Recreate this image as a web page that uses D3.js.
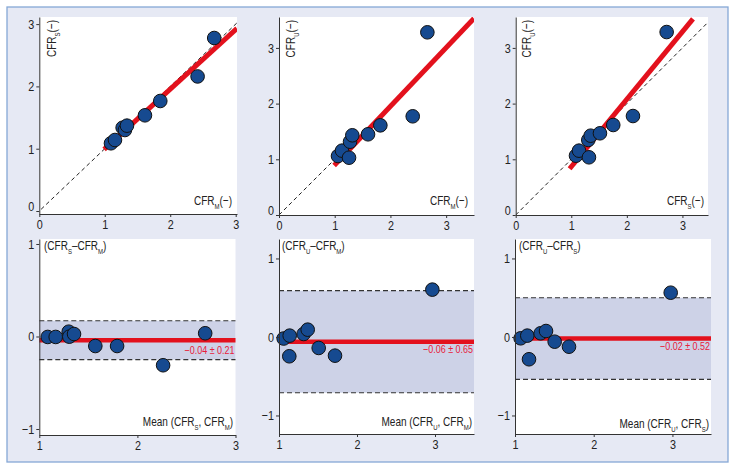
<!DOCTYPE html>
<html><head><meta charset="utf-8">
<script src="https://cdn.jsdelivr.net/npm/d3@7"></script>
<style>
body{margin:0;background:#fff;}
svg{display:block;font-family:"Liberation Sans",Arial,sans-serif;}
</style></head><body><svg id="c" width="736" height="469"></svg>
<script>
// ---------- data ----------
const ticksTop = [0, 1, 2, 3];
const ticksBAx = [1, 2, 3];
const ticksBAy = [-1, 0, 1];

// Panel A: CFR_S vs CFR_M
const aX = [1.095, 1.156, 1.273, 1.308, 1.339, 1.614, 1.848, 2.418, 2.672];
const aY = [1.087, 1.140, 1.337, 1.300, 1.370, 1.536, 1.766, 2.160, 2.777];
const aFitX = [0.99, 3.02];
const aFitY = [0.99, 2.93];
// Panel B: CFR_U vs CFR_M
const bX = [1.059, 1.131, 1.257, 1.275, 1.316, 1.598, 1.819, 2.400, 2.663];
const bY = [1.059, 1.155, 1.029, 1.316, 1.431, 1.449, 1.610, 1.772, 3.280];
const bFitX = [0.99, 3.50];
const bFitY = [0.89, 3.53];
// Panel C: CFR_U vs CFR_S
const cX = [1.085, 1.139, 1.318, 1.306, 1.349, 1.516, 1.755, 2.110, 2.716];
const cY = [1.065, 1.155, 1.036, 1.347, 1.424, 1.467, 1.616, 1.777, 3.285];
const cFitX = [0.97, 3.19];
const cFitY = [0.83, 3.52];

// Bland-Altman panels
const dX = [1.086, 1.167, 1.300, 1.306, 1.354, 1.571, 1.793, 2.262, 2.691];
const dY = [-0.005, -0.005, 0.052, -0.002, 0.027, -0.103, -0.103, -0.311, 0.035];
const eX = [1.060, 1.137, 1.132, 1.316, 1.368, 1.509, 1.718, 2.966];
const eY = [-0.020, 0.017, -0.246, 0.038, 0.093, -0.140, -0.238, 0.603];
const fX = [1.072, 1.156, 1.178, 1.326, 1.394, 1.504, 1.686, 2.978];
const fY = [-0.017, 0.017, -0.284, 0.047, 0.076, -0.060, -0.124, 0.564];
const baMeans = [-0.04, -0.06, -0.02];
const baLimits = [0.21, 0.65, 0.52];
const baLabels = ["\u22120.04 \u00b1 0.21", "\u22120.06 \u00b1 0.65", "\u22120.02 \u00b1 0.52"];

// ---------- drawing ----------
const svg = d3.select("#c");
const RED = "#e3111d", PT = "#164a90", BAND = "#cdd2e7";
const SX = 0.77; // horizontal condensing of text (condensed face look)

svg.append("rect").attr("x", 7).attr("y", 7).attr("width", 721).attr("height", 455)
  .attr("fill", "#e6e9f4").attr("stroke", "#86a8d6").attr("stroke-width", 1.3);

function richText(t, parts, fs) {
  let shift = 0;
  parts.forEach(([s, sub]) => {
    const ts = t.append("tspan").text(s);
    if (sub) { ts.attr("font-size", fs * 0.6).attr("dy", fs * 0.28); shift = fs * 0.28; }
    else { ts.attr("font-size", fs); if (shift) { ts.attr("dy", -shift); shift = 0; } }
  });
}
function label(parent, x, y, anchor, parts, fs, rot, color, sx) {
  const g = parent.append("g")
    .attr("transform", `translate(${x},${y})${rot ? ` rotate(${rot})` : ""} scale(${sx || SX},1)`);
  const t = g.append("text").attr("text-anchor", anchor).attr("fill", color || "#222");
  richText(t, parts, fs);
}

function axisStyle(g) {
  g.selectAll("path.domain").attr("stroke", "#333").attr("stroke-width", 1);
  g.selectAll(".tick line").attr("stroke", "#333");
  g.selectAll(".tick text").attr("font-size", 13.5).attr("fill", "#222")
    .attr("font-family", '"Liberation Sans",Arial,sans-serif');
}
function condenseTicksX(g) {
  g.selectAll(".tick text").attr("transform", "scale(0.8,1)");
}
function condenseTicksY(g) {
  g.selectAll(".tick text").attr("transform", "scale(0.8,1)").attr("x", -5 / 0.8);
}

const topPanels = [
  {xr: [39.3, 237], xd: [0, 3.02], yr: [214, 17], yd: [-0.048, 3.114], X: aX, Y: aY, fx: aFitX, fy: aFitY,
   diag: [-0.05, 3.1], ylab: [["CFR"], ["S", 1], ["(\u2212)"]], xlab: [["CFR"], ["M", 1], ["(\u2212)"]], ylx: 56, xlx: 232},
  {xr: [279, 474], xd: [0, 3.5], yr: [215, 17], yd: [0, 3.555], X: bX, Y: bY, fx: bFitX, fy: bFitY,
   diag: [0, 1], ylab: [["CFR"], ["U", 1], ["(\u2212)"]], xlab: [["CFR"], ["M", 1], ["(\u2212)"]], ylx: 295, xlx: 468},
  {xr: [515.7, 708], xd: [0, 3.46], yr: [215, 17], yd: [0, 3.555], X: cX, Y: cY, fx: cFitX, fy: cFitY,
   diag: [0, 3.55], ylab: [["CFR"], ["U", 1], ["(\u2212)"]], xlab: [["CFR"], ["S", 1], ["(\u2212)"]], ylx: 531, xlx: 704}
];

topPanels.forEach((p, i) => {
  const x = d3.scaleLinear().domain(p.xd).range(p.xr);
  const y = d3.scaleLinear().domain(p.yd).range(p.yr);
  const g = svg.append("g");
  const cid = "clipT" + i;
  svg.append("clipPath").attr("id", cid).append("rect")
    .attr("x", p.xr[0]).attr("y", p.yr[1]).attr("width", p.xr[1] - p.xr[0]).attr("height", p.yr[0] - p.yr[1]);
  g.append("rect").attr("x", p.xr[0]).attr("y", p.yr[1]).attr("width", p.xr[1] - p.xr[0])
    .attr("height", p.yr[0] - p.yr[1]).attr("fill", "#fff");
  const inner = g.append("g").attr("clip-path", `url(#${cid})`);
  inner.append("line").attr("x1", x(p.diag[0])).attr("y1", y(p.diag[0])).attr("x2", x(p.diag[1])).attr("y2", y(p.diag[1]))
    .attr("stroke", "#222").attr("stroke-width", 1).attr("stroke-dasharray", "4,3");
  inner.append("line").attr("x1", x(p.fx[0])).attr("y1", y(p.fy[0])).attr("x2", x(p.fx[1])).attr("y2", y(p.fy[1]))
    .attr("stroke", RED).attr("stroke-width", 5);
  inner.selectAll("circle").data(p.X.map((v, k) => [v, p.Y[k]])).enter().append("circle")
    .attr("cx", d => x(d[0])).attr("cy", d => y(d[1])).attr("r", 6.8)
    .attr("fill", PT).attr("stroke", "#111").attr("stroke-width", 1);
  const ax = g.append("g").attr("transform", `translate(0,${p.yr[0]})`)
    .call(d3.axisBottom(x).tickValues(ticksTop).tickFormat(d3.format("d")).tickSize(3).tickSizeOuter(0).tickPadding(2));
  axisStyle(ax); condenseTicksX(ax);
  const ay = g.append("g").attr("transform", `translate(${p.xr[0]},0)`)
    .call(d3.axisLeft(y).tickValues(ticksTop).tickFormat(d3.format("d")).tickSize(3).tickSizeOuter(0).tickPadding(2));
  axisStyle(ay); condenseTicksY(ay);
  ay.selectAll(".tick").filter(d => d === 0).select("text").attr("dy", "-0.05em");
  label(g, p.ylx, 20, "end", p.ylab, 13, -90);
  label(g, p.xlx, 205, "end", p.xlab, 13, 0);
});

const baPanels = [
  {xr: [39.3, 235.5], xd: [1, 3], yr: [435, 239], yd: [-1.065, 1.054], X: dX, Y: dY,
   title: [["(CFR"], ["S", 1], ["\u2013CFR"], ["M", 1], [")"]], tx: 44,
   mlab: [["Mean (CFR"], ["S", 1], [", CFR"], ["M", 1], [")"]], mx: 233, my: 426, ly: 354},
  {xr: [279, 474], xd: [1, 3.5], yr: [434, 239], yd: [-1.236, 1.248], X: eX, Y: eY,
   title: [["(CFR"], ["U", 1], ["\u2013CFR"], ["M", 1], [")"]], tx: 282,
   mlab: [["Mean (CFR"], ["U", 1], [", CFR"], ["M", 1], [")"]], mx: 472, my: 426, ly: 353},
  {xr: [515, 711], xd: [1, 3.49], yr: [434, 239], yd: [-1.236, 1.248], X: fX, Y: fY,
   title: [["(CFR"], ["U", 1], ["\u2013CFR"], ["S", 1], [")"]], tx: 519,
   mlab: [["Mean (CFR"], ["U", 1], [", CFR"], ["S", 1], [")"]], mx: 709, my: 428, ly: 350}
];

baPanels.forEach((p, i) => {
  const x = d3.scaleLinear().domain(p.xd).range(p.xr);
  const y = d3.scaleLinear().domain(p.yd).range(p.yr);
  const g = svg.append("g");
  const m = baMeans[i], L = baLimits[i];
  g.append("rect").attr("x", p.xr[0]).attr("y", p.yr[1]).attr("width", p.xr[1] - p.xr[0])
    .attr("height", p.yr[0] - p.yr[1]).attr("fill", "#fff");
  g.append("rect").attr("x", p.xr[0]).attr("y", y(m + L)).attr("width", p.xr[1] - p.xr[0])
    .attr("height", y(m - L) - y(m + L)).attr("fill", BAND);
  [m + L, m - L].forEach(v => g.append("line").attr("x1", p.xr[0]).attr("x2", p.xr[1])
    .attr("y1", y(v)).attr("y2", y(v)).attr("stroke", "#333").attr("stroke-width", 1.1).attr("stroke-dasharray", "5,3"));
  g.append("line").attr("x1", p.xr[0]).attr("x2", p.xr[1]).attr("y1", y(m)).attr("y2", y(m))
    .attr("stroke", RED).attr("stroke-width", 4.5);
  label(g, p.xr[1] - 1, p.ly, "end", [[baLabels[i]]], 11.5, 0, "#e8203a", 0.78);
  g.selectAll("circle").data(p.X.map((v, k) => [v, p.Y[k]])).enter().append("circle")
    .attr("cx", d => x(d[0])).attr("cy", d => y(d[1])).attr("r", 6.8)
    .attr("fill", PT).attr("stroke", "#111").attr("stroke-width", 1);
  const ax = g.append("g").attr("transform", `translate(0,${p.yr[0]})`)
    .call(d3.axisBottom(x).tickValues(ticksBAx).tickFormat(d3.format("d")).tickSize(3).tickSizeOuter(0).tickPadding(2));
  axisStyle(ax); condenseTicksX(ax);
  const ay = g.append("g").attr("transform", `translate(${p.xr[0]},0)`)
    .call(d3.axisLeft(y).tickValues(ticksBAy).tickFormat(d => d < 0 ? "\u2212" + Math.abs(d) : d)
      .tickSize(3).tickSizeOuter(0).tickPadding(2));
  axisStyle(ay); condenseTicksY(ay);
  label(g, p.tx, 250, "start", p.title, 13, 0);
  label(g, p.mx, p.my, "end", p.mlab, 13, 0);
});
</script></body></html>
